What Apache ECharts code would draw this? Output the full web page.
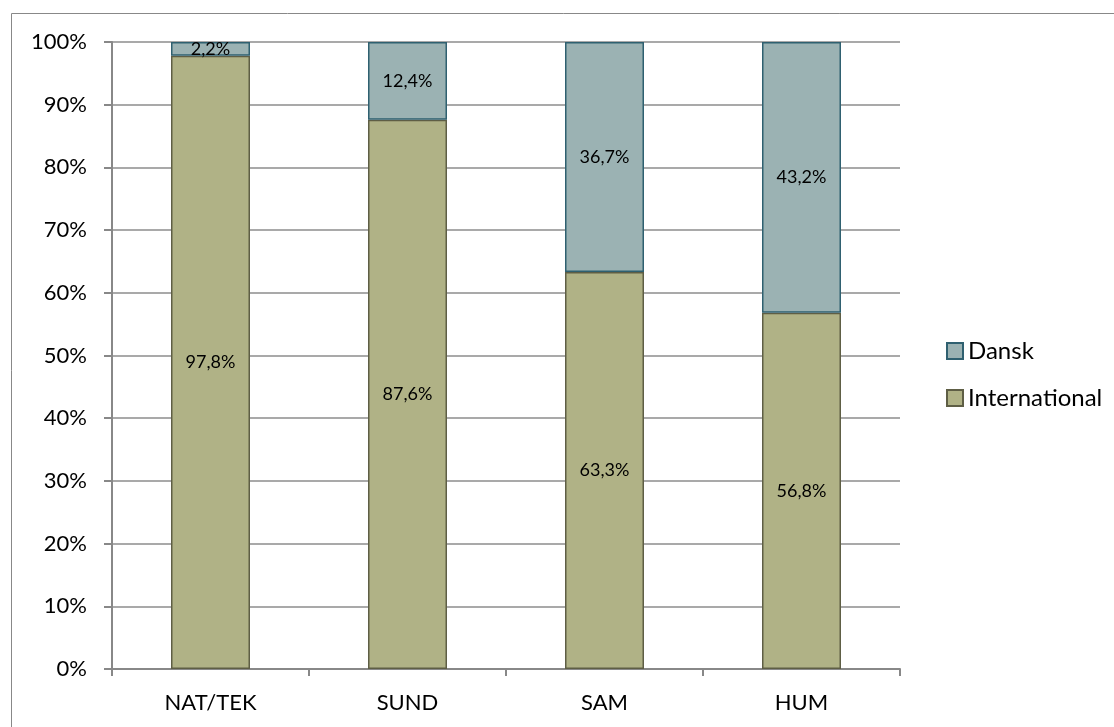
<!DOCTYPE html>
<html><head><meta charset="utf-8">
<script src="https://cdn.jsdelivr.net/npm/echarts@6/dist/echarts.min.js"></script>
<style>html,body{margin:0;padding:0;background:#fff}#c{width:1114px;height:727px}</style>
</head><body><div id="c"></div>
<script>
const categories = ['NAT/TEK', 'SUND', 'SAM', 'HUM'];
const international = [97.8, 87.6, 63.3, 56.8];
const dansk = [2.2, 12.4, 36.7, 43.2];
const yTicks = [0, 10, 20, 30, 40, 50, 60, 70, 80, 90, 100];

const FONT = 'Lato, "Open Sans", sans-serif';
const fmt = v => v.toFixed(1).replace('.', ',') + '%';
const chart = echarts.init(document.getElementById('c'));
chart.setOption({
  animation: false,
  graphic: [{ type: 'rect', shape: { x: 11.5, y: 13.5, width: 1200, height: 800 }, style: { fill: 'none', stroke: '#888', lineWidth: 1 }, z: -10 }],
  grid: { left: 112, right: 214, top: 42, bottom: 58 },
  legend: {
    orient: 'vertical', left: 941, top: 334, itemGap: 23, itemWidth: 16, itemHeight: 16,
    icon: 'rect',
    data: ['Dansk', 'International'],
    textStyle: { fontFamily: FONT, fontSize: 24, color: '#000' }
  },
  xAxis: {
    type: 'category', data: categories,
    axisLine: { lineStyle: { color: '#888', width: 2 } },
    axisTick: { show: true, length: 7, lineStyle: { color: '#888', width: 2 } },
    axisLabel: { fontFamily: FONT, fontSize: 22, color: '#000', margin: 23 }
  },
  yAxis: {
    type: 'value', min: 0, max: 100, interval: 10,
    axisLine: { show: true, lineStyle: { color: '#888', width: 2 } },
    axisTick: { show: true, inside: false, length: 8, lineStyle: { color: '#888', width: 2 } },
    splitLine: { lineStyle: { color: '#8c8c8c', width: 1.5 } },
    axisLabel: { fontFamily: FONT, fontSize: 22, color: '#000', margin: 25,
      formatter: v => yTicks.includes(v) ? v + '%' : '' }
  },
  series: [
    { name: 'International', type: 'bar', stack: 'a', data: international, barWidth: 79,
      itemStyle: { color: '#b0b286', borderColor: '#5e5e45', borderWidth: 1.5 },
      label: { show: true, position: 'inside', formatter: p => fmt(p.value), fontFamily: FONT, fontSize: 18, color: '#000' } },
    { name: 'Dansk', type: 'bar', stack: 'a', data: dansk, barWidth: 79,
      itemStyle: { color: '#9bb2b3', borderColor: '#2f6070', borderWidth: 1.5 },
      label: { show: true, position: 'inside', formatter: p => fmt(p.value), fontFamily: FONT, fontSize: 18, color: '#000' } }
  ]
});
</script></body></html>
